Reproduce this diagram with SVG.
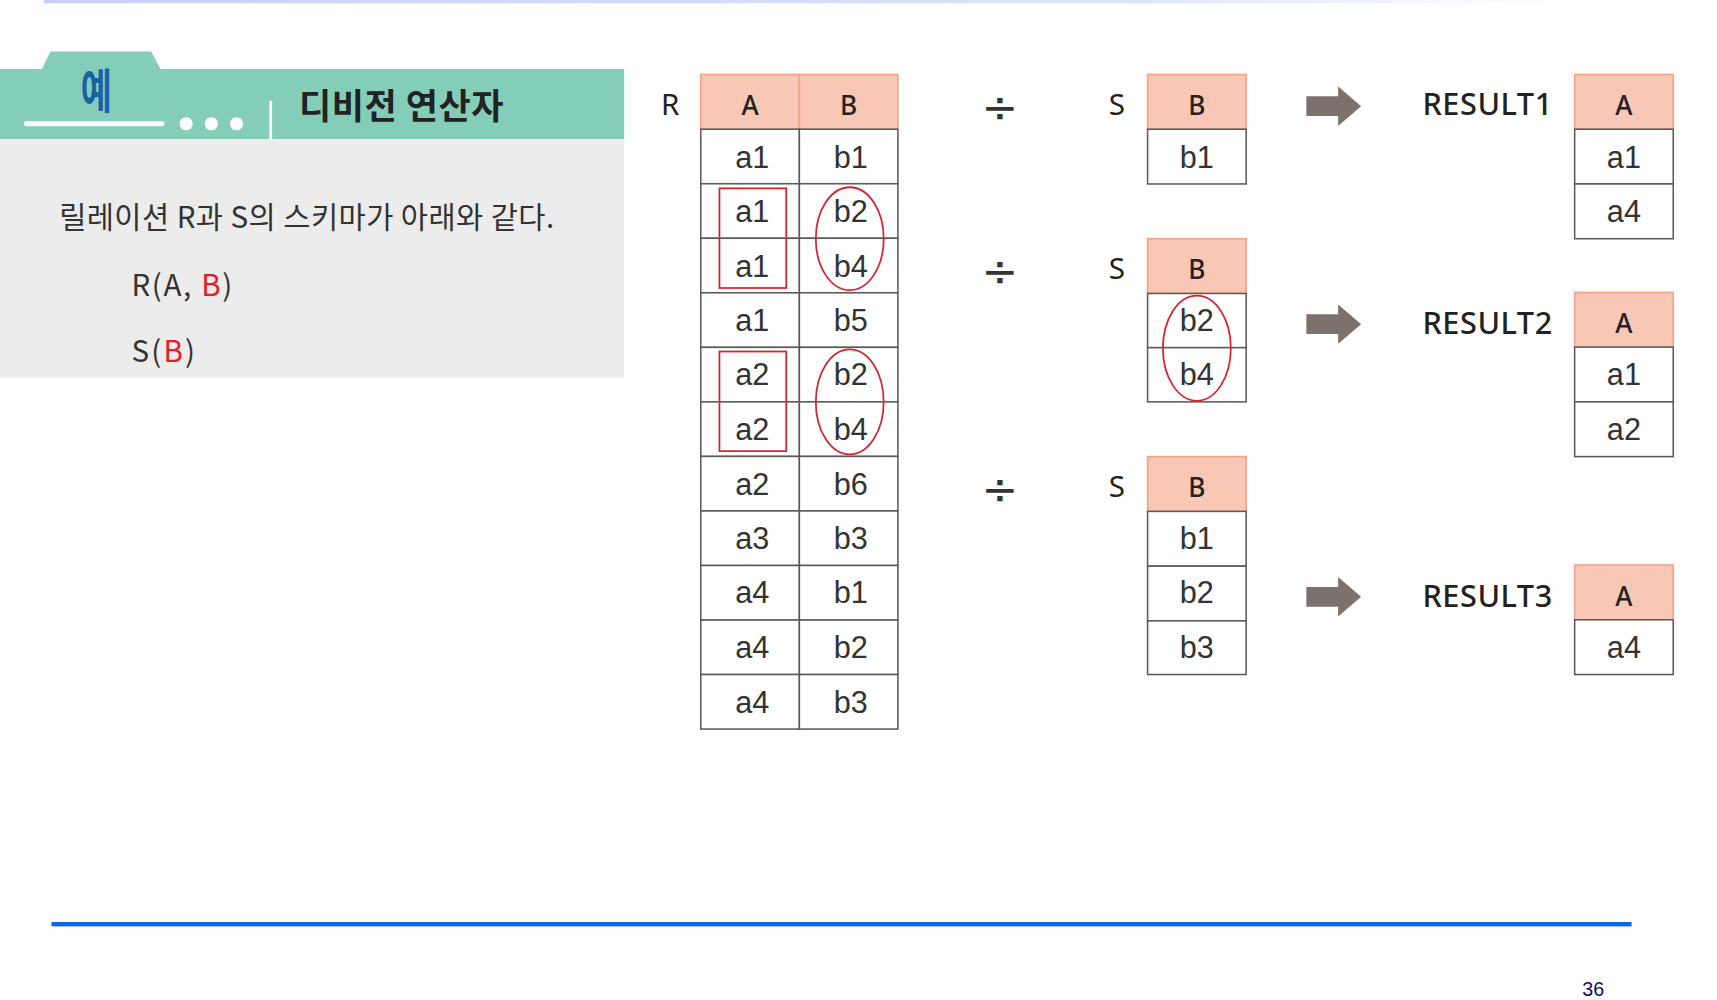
<svg xmlns="http://www.w3.org/2000/svg" width="1717" height="1000" viewBox="0 0 1717 1000">
<defs>
<linearGradient id="topline" x1="0" x2="1" y1="0" y2="0">
<stop offset="0" stop-color="#c9d1f3"/>
<stop offset="0.7" stop-color="#dde2f6"/>
<stop offset="1" stop-color="#ffffff"/>
</linearGradient>
</defs>
<style>
.hd{fill:#f9c7b6;stroke:#f4a387;stroke-width:1.5}
.cell{fill:#ffffff;stroke:#5a5a5a;stroke-width:1.4}
.ht{font-family:"Noto Sans","Liberation Sans",sans-serif;font-size:24px;font-weight:500;fill:#222;text-anchor:middle}
.ct{font-family:"Liberation Sans",Arial,sans-serif;font-size:28px;fill:#333;text-anchor:middle}
.lbl{font-family:"Noto Sans","Liberation Sans",sans-serif;font-size:27px;fill:#222;text-anchor:middle}
.res{font-family:"Noto Sans","Liberation Sans",sans-serif;font-size:28px;font-weight:500;fill:#222;letter-spacing:0.5px}
.div{font-family:"DejaVu Sans","Liberation Sans",sans-serif;font-size:40px;fill:#333;text-anchor:middle}
.mark{fill:none;stroke:#d8232f;stroke-width:1.6}
.arrow{fill:#7d716d}
.kr{font-family:"Noto Sans CJK KR","Noto Sans",sans-serif;fill:#333}
.red{fill:#e0202a}
</style>
<rect x="0" y="0" width="1717" height="1000" fill="#ffffff"/>
<g transform="scale(1.09503)">
<g id="top-line"><rect x="40" y="0" width="1390" height="3" fill="url(#topline)"/></g>

<g id="header-panel">
<polygon points="38,64 46,47 138,47 147,64" fill="#84cdb8"/>
<rect x="0" y="63" width="570" height="64" fill="#84cdb8"/>
<text x="88" y="99" font-family="'Noto Sans CJK KR',sans-serif" font-size="43" font-weight="700" fill="#1b62a4" text-anchor="middle" transform="translate(88 0) scale(0.72 1) translate(-88 0)">예</text>
<line x1="24" y1="113" x2="148" y2="113" stroke="#ffffff" stroke-width="4.5" stroke-linecap="round"/>
<circle cx="170" cy="113" r="6" fill="#ffffff"/>
<circle cx="193" cy="113" r="6" fill="#ffffff"/>
<circle cx="216" cy="113" r="6" fill="#ffffff"/>
<rect x="246" y="92" width="2.5" height="35" fill="#ffffff"/>
<text x="273" y="109" font-family="'Noto Sans CJK KR',sans-serif" font-size="32" font-weight="700" fill="#222" letter-spacing="0.5">디비전 연산자</text>
<rect x="0" y="127" width="570" height="218" fill="#ececec"/>
<text class="kr" x="54" y="208" font-size="27" letter-spacing="0.4">릴레이션 R과 S의 스키마가 아래와 같다.</text>
<text class="kr" x="120" y="270" font-size="27" letter-spacing="1.5">R(A, <tspan class="red">B</tspan>)</text>
<text class="kr" x="120" y="331" font-size="27" letter-spacing="2">S(<tspan class="red">B</tspan>)</text>
</g>

<g id="table-R">
<text class="lbl" x="612" y="105">R</text>
<rect class="hd" x="640" y="68" width="90" height="50"/>
<rect class="hd" x="730" y="68" width="90" height="50"/>
<text class="ht" x="685" y="105">A</text>
<text class="ht" x="775" y="105">B</text>
<g>
<rect class="cell" x="640" y="118" width="90" height="49.8"/><rect class="cell" x="730" y="118" width="90" height="49.8"/>
<rect class="cell" x="640" y="167.8" width="90" height="49.8"/><rect class="cell" x="730" y="167.8" width="90" height="49.8"/>
<rect class="cell" x="640" y="217.6" width="90" height="49.8"/><rect class="cell" x="730" y="217.6" width="90" height="49.8"/>
<rect class="cell" x="640" y="267.4" width="90" height="49.8"/><rect class="cell" x="730" y="267.4" width="90" height="49.8"/>
<rect class="cell" x="640" y="317.2" width="90" height="49.8"/><rect class="cell" x="730" y="317.2" width="90" height="49.8"/>
<rect class="cell" x="640" y="367" width="90" height="49.8"/><rect class="cell" x="730" y="367" width="90" height="49.8"/>
<rect class="cell" x="640" y="416.8" width="90" height="49.8"/><rect class="cell" x="730" y="416.8" width="90" height="49.8"/>
<rect class="cell" x="640" y="466.6" width="90" height="49.8"/><rect class="cell" x="730" y="466.6" width="90" height="49.8"/>
<rect class="cell" x="640" y="516.4" width="90" height="49.8"/><rect class="cell" x="730" y="516.4" width="90" height="49.8"/>
<rect class="cell" x="640" y="566.2" width="90" height="49.8"/><rect class="cell" x="730" y="566.2" width="90" height="49.8"/>
<rect class="cell" x="640" y="616" width="90" height="49.8"/><rect class="cell" x="730" y="616" width="90" height="49.8"/>
</g>
<g>
<text class="ct" x="687" y="153">a1</text><text class="ct" x="777" y="153">b1</text>
<text class="ct" x="687" y="203">a1</text><text class="ct" x="777" y="203">b2</text>
<text class="ct" x="687" y="253">a1</text><text class="ct" x="777" y="253">b4</text>
<text class="ct" x="687" y="302">a1</text><text class="ct" x="777" y="302">b5</text>
<text class="ct" x="687" y="352">a2</text><text class="ct" x="777" y="352">b2</text>
<text class="ct" x="687" y="402">a2</text><text class="ct" x="777" y="402">b4</text>
<text class="ct" x="687" y="452">a2</text><text class="ct" x="777" y="452">b6</text>
<text class="ct" x="687" y="501">a3</text><text class="ct" x="777" y="501">b3</text>
<text class="ct" x="687" y="551">a4</text><text class="ct" x="777" y="551">b1</text>
<text class="ct" x="687" y="601">a4</text><text class="ct" x="777" y="601">b2</text>
<text class="ct" x="687" y="651">a4</text><text class="ct" x="777" y="651">b3</text>
</g>
<rect class="mark" x="657" y="172" width="61" height="91"/>
<rect class="mark" x="657" y="321" width="61" height="91"/>
<ellipse class="mark" cx="776" cy="218" rx="31" ry="47"/>
<ellipse class="mark" cx="776" cy="367" rx="31" ry="48"/>
</g>

<g id="operators">
<text class="div" x="913" y="111">÷</text>
<text class="div" x="913" y="261">÷</text>
<text class="div" x="913" y="460">÷</text>
</g>

<g id="table-S1">
<text class="lbl" x="1020" y="105">S</text>
<rect class="hd" x="1048" y="68" width="90" height="50"/>
<text class="ht" x="1093" y="105">B</text>
<rect class="cell" x="1048" y="118" width="90" height="50"/>
<text class="ct" x="1093" y="153">b1</text>
</g>

<g id="table-S2">
<text class="lbl" x="1020" y="255">S</text>
<rect class="hd" x="1048" y="218" width="90" height="50"/>
<text class="ht" x="1093" y="255">B</text>
<rect class="cell" x="1048" y="268" width="90" height="49.5"/>
<rect class="cell" x="1048" y="317.5" width="90" height="49.5"/>
<text class="ct" x="1093" y="302">b2</text>
<text class="ct" x="1093" y="352">b4</text>
<ellipse class="mark" cx="1093" cy="318" rx="31" ry="48"/>
</g>

<g id="table-S3">
<text class="lbl" x="1020" y="454">S</text>
<rect class="hd" x="1048" y="417" width="90" height="50"/>
<text class="ht" x="1093" y="454">B</text>
<rect class="cell" x="1048" y="467" width="90" height="50"/>
<rect class="cell" x="1048" y="517" width="90" height="50"/>
<rect class="cell" x="1048" y="567" width="90" height="49"/>
<text class="ct" x="1093" y="501">b1</text>
<text class="ct" x="1093" y="551">b2</text>
<text class="ct" x="1093" y="601">b3</text>
</g>

<g id="connectors">
<polygon class="arrow" points="1193,88 1222,88 1222,79 1243,97 1222,115 1222,106 1193,106"/>
<polygon class="arrow" points="1193,287 1222,287 1222,278 1243,296 1222,314 1222,305 1193,305"/>
<polygon class="arrow" points="1193,536 1222,536 1222,527 1243,545 1222,563 1222,554 1193,554"/>
</g>

<g id="result1">
<text class="res" x="1299" y="105">RESULT1</text>
<rect class="hd" x="1438" y="68" width="90" height="50"/>
<text class="ht" x="1483" y="105">A</text>
<rect class="cell" x="1438" y="118" width="90" height="50"/>
<rect class="cell" x="1438" y="168" width="90" height="50"/>
<text class="ct" x="1483" y="153">a1</text>
<text class="ct" x="1483" y="203">a4</text>
</g>

<g id="result2">
<text class="res" x="1299" y="305">RESULT2</text>
<rect class="hd" x="1438" y="267" width="90" height="50"/>
<text class="ht" x="1483" y="304">A</text>
<rect class="cell" x="1438" y="317" width="90" height="50"/>
<rect class="cell" x="1438" y="367" width="90" height="50"/>
<text class="ct" x="1483" y="352">a1</text>
<text class="ct" x="1483" y="402">a2</text>
</g>

<g id="result3">
<text class="res" x="1299" y="554">RESULT3</text>
<rect class="hd" x="1438" y="516" width="90" height="50"/>
<text class="ht" x="1483" y="553">A</text>
<rect class="cell" x="1438" y="566" width="90" height="50"/>
<text class="ct" x="1483" y="601">a4</text>
</g>

<g id="footer">
<rect x="47" y="842" width="1443" height="4" fill="#0b63f3"/>
<text x="1455" y="910" font-family="'Liberation Sans',sans-serif" font-size="18" fill="#101060" text-anchor="middle">36</text>
</g>
</g>
</svg>
